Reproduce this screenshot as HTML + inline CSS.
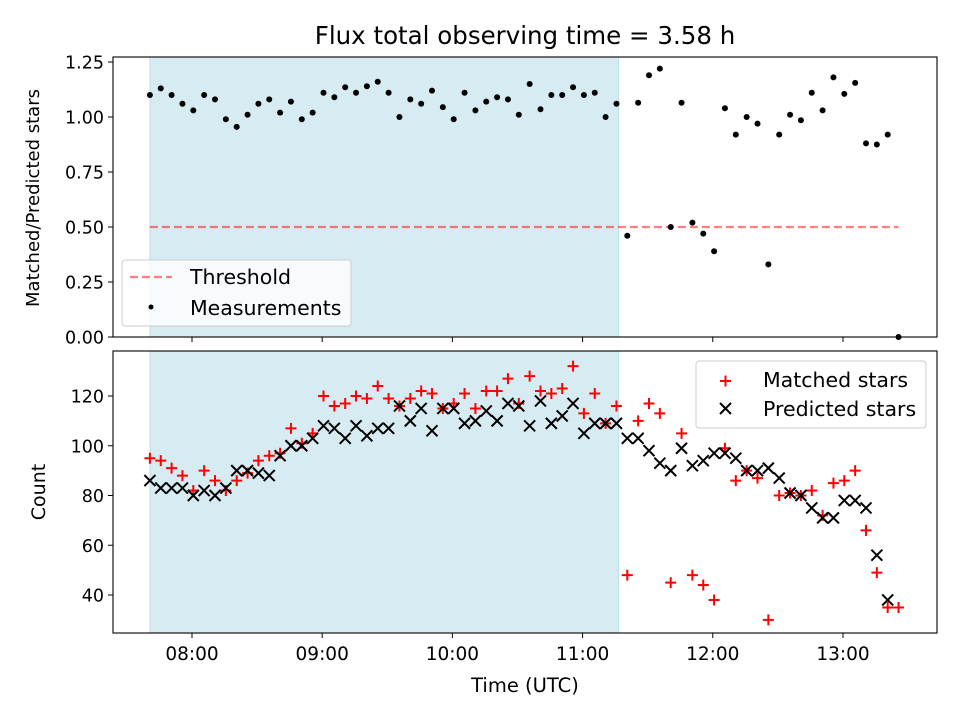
<!DOCTYPE html>
<html><head><meta charset="utf-8"><style>
body{margin:0;background:#fff}
svg text{font-family:"DejaVu Sans","Liberation Sans",sans-serif;fill:#000}
</style></head><body>
<svg id="c" width="960" height="720" xmlns="http://www.w3.org/2000/svg"></svg>
<script>
const times=[460.6,465.6,470.6,475.6,480.6,485.6,490.6,495.6,500.6,505.6,510.6,515.6,520.6,525.6,530.6,535.6,540.6,545.6,550.6,555.6,560.6,565.6,570.6,575.6,580.6,585.6,590.6,595.6,600.6,605.6,610.6,615.6,620.6,625.6,630.6,635.6,640.6,645.6,650.6,655.6,660.6,665.6,670.6,675.6,680.6,685.6,690.6,695.6,700.6,705.6,710.6,715.6,720.6,725.6,730.6,735.6,740.6,745.6,750.6,755.6,760.6,765.6,770.6,775.6,780.6,785.6,790.6,795.6,800.6,805.6];
const ratio=[1.10,1.13,1.10,1.06,1.03,1.10,1.08,0.99,0.955,1.01,1.06,1.08,1.02,1.07,0.99,1.02,1.11,1.09,1.135,1.11,1.14,1.16,1.11,1.00,1.08,1.06,1.12,1.045,0.99,1.11,1.03,1.07,1.09,1.08,1.01,1.15,1.035,1.10,1.10,1.135,1.10,1.11,1.00,1.06,0.46,1.065,1.19,1.22,0.50,1.065,0.52,0.47,0.39,1.04,0.92,1.00,0.97,0.33,0.92,1.01,0.985,1.11,1.03,1.18,1.105,1.155,0.88,0.875,0.92,0.0];
const matched=[95,94,91,88,82,90,86,82,86,89,94,96,97,107,101,105,120,116,117,120,119,124,119,116,119,122,121,115,117,121,115,122,122,127,117,128,122,121,123,132,113,121,109,116,48,110,117,113,45,105,48,44,38,99,86,90,87,30,80,81,80,82,72,85,86,90,66,49,35,35];
const predicted=[86,83,83,83,80,82,80,83,90,90,89,88,96,100,100,103,108,107,103,108,104,107,107,116,110,115,106,115,115,109,110,114,110,117,116,108,118,109,112,117,105,109,109,109,103,103,98,93,90,99,92,94,97,97,95,90,90,91,87,81,80,75,71,71,78,78,75,56,38];
const threshold=0.5;
const xTicks=[480,540,600,660,720,780];
const xTickLabels=["08:00","09:00","10:00","11:00","12:00","13:00"];
const yTopTicks=[0,0.25,0.5,0.75,1.0,1.25];
const yTopLabels=["0.00","0.25","0.50","0.75","1.00","1.25"];
const yBotTicks=[40,60,80,100,120];
const shadeStart=460.6, shadeEnd=676.6;

const svg=document.getElementById('c');
const NS='http://www.w3.org/2000/svg';
function mk(tag,attrs,parent){const e=document.createElementNS(NS,tag);for(const k in attrs)e.setAttribute(k,attrs[k]);(parent||svg).appendChild(e);return e;}
const L=113,R=937;
const X=t=>192+(t-480)*130.2/60;
const Yt=v=>337-v*220;
const Yb=v=>595-(v-40)*2.4875;
const T1=57,B1=337,T2=351,B2=633;

let t=mk('text',{x:525,y:44,'font-size':24.5,'text-anchor':'middle'});t.textContent='Flux total observing time = 3.58 h';



function panel(top,bot,name){
  const g=mk('g',{});
  
  
  const sh=mk('rect',{x:X(shadeStart),y:top,width:X(shadeEnd)-X(shadeStart),height:bot-top,fill:'#add8e6','fill-opacity':0.5,stroke:'#add8e6','stroke-opacity':0.7},g);
  
  
  return g;
}
function frame(top,bot,g){mk('rect',{x:L,y:top,width:R-L,height:bot-top,fill:'none',stroke:'#000','stroke-width':1.1},g);}
function xticks(bot,g,labels){
  xTicks.forEach((v,i)=>{const x=X(v);mk('line',{x1:x,x2:x,y1:bot,y2:bot+5,stroke:'#000'},g);
    if(labels){const tx=mk('text',{x:x,y:bot+27,'font-size':18.5,'text-anchor':'middle'},g);tx.textContent=xTickLabels[i];
      
      }});
}
const g1=panel(T1,B1,'ratio-panel');
const thr=mk('line',{x1:X(times[0]),x2:X(times[times.length-1]),y1:Yt(threshold),y2:Yt(threshold),stroke:'#ff0000','stroke-opacity':0.5,'stroke-width':2.2,'stroke-dasharray':'8,4'},g1);


ratio.forEach((v,i)=>{const c=mk('circle',{cx:X(times[i]),cy:Yt(v),r:3,fill:'#000'},g1);
  
  });
frame(T1,B1,g1);xticks(B1,g1,false);
yTopTicks.forEach((v,i)=>{const y=Yt(v);mk('line',{x1:L-5,x2:L,y1:y,y2:y,stroke:'#000'},g1);
  const tx=mk('text',{x:L-9,y:y+6.5,'font-size':17.5,'text-anchor':'end'},g1);tx.textContent=yTopLabels[i];
  
  });
let yl=mk('text',{x:39,y:198,'font-size':18,'text-anchor':'middle',transform:'rotate(-90 39 198)'});yl.textContent='Matched/Predicted stars';


const lg1=mk('g',{});


mk('rect',{x:122,y:260,width:229,height:66,rx:3,fill:'#fff','fill-opacity':0.8,stroke:'#ccc'},lg1);
mk('line',{x1:130,x2:172,y1:277,y2:277,stroke:'#ff0000','stroke-opacity':0.5,'stroke-width':2.2,'stroke-dasharray':'8,4'},lg1);
let lt=mk('text',{x:190,y:284,'font-size':20.5},lg1);lt.textContent='Threshold';
mk('circle',{cx:151,cy:307,r:2.5,fill:'#000'},lg1);
lt=mk('text',{x:190,y:315,'font-size':20.5},lg1);lt.textContent='Measurements';

const g2=panel(T2,B2,'count-panel');
matched.forEach((v,i)=>{const x=X(times[i]),y=Yb(v);
  const p=mk('path',{d:`M${x-5.5} ${y}H${x+5.5}M${x} ${y-5.5}V${y+5.5}`,stroke:'#ff0000','stroke-width':2},g2);
  
  });
predicted.forEach((v,i)=>{const x=X(times[i]),y=Yb(v);
  const p=mk('path',{d:`M${x-5.5} ${y-5.5}L${x+5.5} ${y+5.5}M${x-5.5} ${y+5.5}L${x+5.5} ${y-5.5}`,stroke:'#000','stroke-width':2},g2);
  
  });
frame(T2,B2,g2);xticks(B2,g2,true);
yBotTicks.forEach(v=>{const y=Yb(v);mk('line',{x1:L-5,x2:L,y1:y,y2:y,stroke:'#000'},g2);
  const tx=mk('text',{x:L-9,y:y+6.5,'font-size':17.5,'text-anchor':'end'},g2);tx.textContent=String(v);
  
  });
yl=mk('text',{x:45,y:492,'font-size':19,'text-anchor':'middle',transform:'rotate(-90 45 492)'});yl.textContent='Count';


let xl=mk('text',{x:525,y:692,'font-size':19.5,'text-anchor':'middle'});xl.textContent='Time (UTC)';


const lg2=mk('g',{});


mk('rect',{x:696,y:361,width:230,height:67,rx:3,fill:'#fff','fill-opacity':0.8,stroke:'#ccc'},lg2);
mk('path',{d:'M720 381H731M725.5 375.5V386.5',stroke:'#ff0000','stroke-width':2},lg2);
lt=mk('text',{x:763,y:387,'font-size':20.5},lg2);lt.textContent='Matched stars';
mk('path',{d:'M720 403L731 414M720 414L731 403',stroke:'#000','stroke-width':2},lg2);
lt=mk('text',{x:763,y:416,'font-size':20.5},lg2);lt.textContent='Predicted stars';
</script>
</body></html>
